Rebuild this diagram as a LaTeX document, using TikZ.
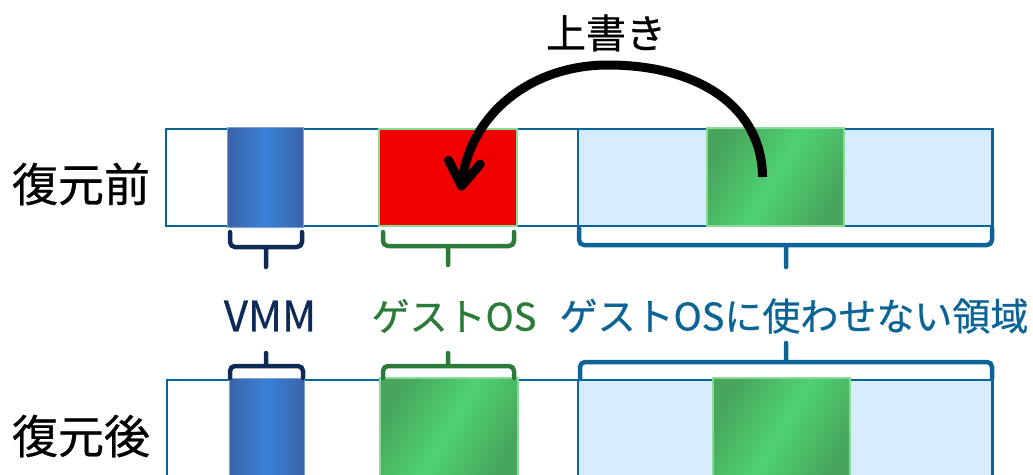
\documentclass[tikz,border=0pt]{standalone}
\usepackage{fontspec}
\setmainfont{Noto Sans CJK JP}
\newfontfamily\lblfont{Noto Sans CJK JP}[FakeBold=0.6]
\usetikzlibrary{arrows.meta}
\definecolor{stripblue}{HTML}{0B6496}
\definecolor{areablue}{HTML}{D6ECFC}
\definecolor{navy}{HTML}{0E2A57}
\definecolor{gosgreen}{HTML}{2A7A38}
\definecolor{vmmdark}{HTML}{3A63A6}
\definecolor{vmmlight}{HTML}{3A82D8}
\definecolor{vmmedge}{HTML}{7AA4D8}
\definecolor{grdark}{HTML}{48A65C}
\definecolor{grlight}{HTML}{4FD272}
\definecolor{gredge}{HTML}{8AD89A}
\definecolor{redfill}{HTML}{F20000}
\tikzset{
  blk/.style={anchor=north west, inner sep=0pt, outer sep=0pt},
  strip/.style={blk, draw=stripblue, line width=2.5pt, fill=white},
  area/.style={blk, draw=stripblue, line width=2pt, fill=areablue},
  vmmblk/.style={blk, draw=vmmedge, line width=1pt, left color=vmmdark, right color=vmmdark, middle color=vmmlight},
  grblk/.style={blk, draw=gredge, line width=1.5pt, left color=grdark, right color=grdark, middle color=grlight, shading angle=60},
  redblk/.style={blk, draw=gredge, line width=1.5pt, fill=redfill},
  brc/.style={line width=4.5pt, rounded corners=5pt, line cap=round, line join=round},
  lbl/.style={inner sep=0pt},
}
\begin{document}
\begin{tikzpicture}[x=1pt,y=-1pt]
\useasboundingbox (0,0) rectangle (1033,474);
\clip (0,0) rectangle (1033,474);

% top strip
\node[strip, minimum width=827pt, minimum height=97pt] (strip1) at (166,129) {};
\node[area, minimum width=414pt, minimum height=97pt] (area1) at (578,129) {};
\node[vmmblk, minimum width=76pt, minimum height=100pt] (vmm1) at (227,127) {};
\node[redblk, minimum width=138pt, minimum height=97pt] (red) at (379,129) {};
\node[grblk, minimum width=137pt, minimum height=98pt] (g1) at (707,128) {};

% bottom strip
\node[strip, minimum width=826pt, minimum height=100pt] (strip2) at (167,380) {};
\node[area, minimum width=414pt, minimum height=100pt] (area2) at (578,380) {};
\node[vmmblk, minimum width=75pt, minimum height=102pt] (vmm2) at (229,378) {};
\node[grblk, minimum width=138pt, minimum height=102pt] (g2) at (380,378) {};
\node[grblk, minimum width=137pt, minimum height=102pt] (g3) at (713,378) {};

% braces (top row, tips down)
\draw[brc, navy] (230,232) -- (230,247) -- (302,247) -- (302,232) (266,247) -- (266,267);
\draw[brc, gosgreen] (383,232) -- (383,246) -- (514,246) -- (514,232) (448,246) -- (448,265);
\draw[brc, stripblue] (579,228) -- (579,245) -- (992,245) -- (992,228) (786,245) -- (786,267);

% braces (bottom row, tips up)
\draw[brc, navy] (230,378) -- (230,366) -- (303,366) -- (303,378) (266,366) -- (266,353);
\draw[brc, gosgreen] (383,378) -- (383,366) -- (514,366) -- (514,378) (448,366) -- (448,353);
\draw[brc, stripblue] (580,379) -- (580,362) -- (992,362) -- (992,379) (786,362) -- (786,343);

% labels
\node[lbl, text=navy, font=\lblfont\fontsize{42}{46}\selectfont] (lvmm) at (270,316) {VMM};
\node[lbl, text=gosgreen, font=\lblfont\fontsize{38}{42}\selectfont] (lgos) at (454,316) {ゲストOS};
\node[lbl, text=stripblue, font=\lblfont\fontsize{38}{42}\selectfont] (lno) at (794,316) {ゲストOSに使わせない領域};
\node[lbl, font=\lblfont\fontsize{46}{50}\selectfont] (lpre) at (81,184) {復元前};
\node[lbl, font=\lblfont\fontsize{46}{50}\selectfont] (lpost) at (81,436) {復元後};
\node[lbl, font=\lblfont\fontsize{40}{44}\selectfont] (lover) at (606,33) {上書き};

% overwrite arrow
\coordinate (from) at ([xshift=-13pt]g1.center);
\coordinate (to) at ([xshift=13pt,yshift=-13pt]red.center);
\coordinate (top) at (608,65);
\draw[line width=9pt, -{Straight Barb[length=24pt,width=32pt,round]}]
  (from) .. controls (762,108) and (700,65) .. (top)
         .. controls (530,65) and (470,115) .. (to);
\end{tikzpicture}
\end{document}
